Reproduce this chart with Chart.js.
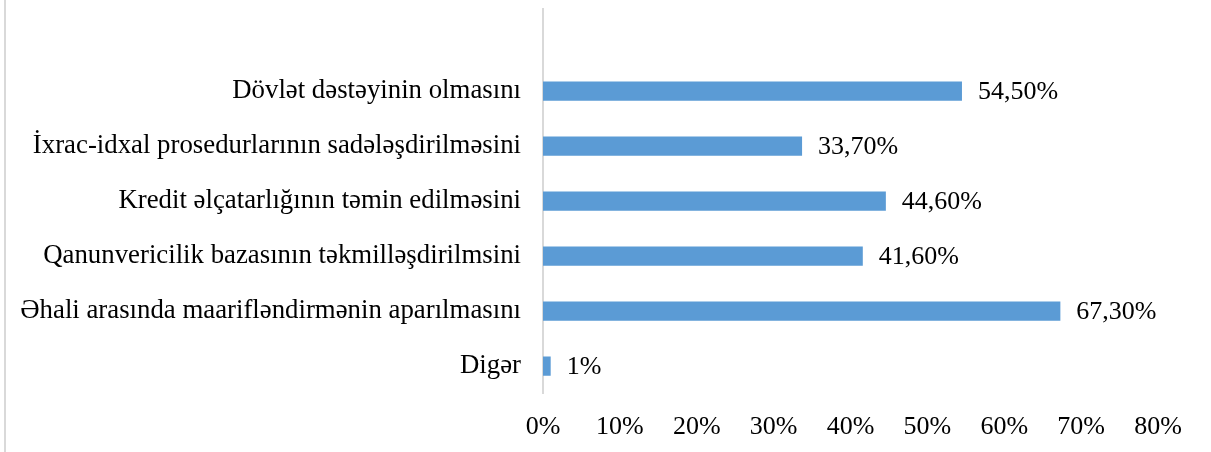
<!DOCTYPE html>
<html>
<head>
<meta charset="utf-8">
<script src="https://cdn.jsdelivr.net/npm/chart.js@4.4.1/dist/chart.umd.min.js"></script>
<style>
  html, body { margin: 0; padding: 0; background: #fff; }
  #wrap { position: relative; width: 1211px; height: 452px; }
  #edge { position: absolute; left: 4px; top: 0; width: 2px; height: 452px; background: #d9d9d9; }
  canvas { position: absolute; left: 0; top: 0; }
</style>
</head>
<body>
<div id="wrap">
  <div id="edge"></div>
  <canvas id="chart" width="1211" height="452"></canvas>
</div>
<script>
// ====== DATA ======
// first row is left blank on purpose (empty slot above the bars)
const categories = [
  '',
  'Dövlət dəstəyinin olmasını',
  'İxrac-idxal prosedurlarının sadələşdirilməsini',
  'Kredit əlçatarlığının təmin edilməsini',
  'Qanunvericilik bazasının təkmilləşdirilmsini',
  'Əhali arasında maarifləndirmənin aparılmasını',
  'Digər'
];
const values = [null, 54.5, 33.7, 44.6, 41.6, 67.3, 1];
const xTicks = [0, 10, 20, 30, 40, 50, 60, 70, 80];

const SERIF = '"Liberation Serif", "Times New Roman", serif';
const FONT = { family: SERIF, size: 26 };
const CAT_FONT = { family: SERIF, size: 26.8 };
const TEXT = '#000000';

function fmtPct(v) {
  if (v === Math.round(v)) return v + '%';
  return v.toFixed(2).replace('.', ',') + '%';
}

// value labels right of each bar
const valueLabels = {
  id: 'valueLabels',
  afterDatasetsDraw(c) {
    const ctx = c.ctx;
    const meta = c.getDatasetMeta(0);
    ctx.save();
    ctx.font = `${FONT.size}px ${FONT.family}`;
    ctx.fillStyle = TEXT;
    ctx.textBaseline = 'middle';
    ctx.textAlign = 'left';
    meta.data.forEach((bar, i) => {
      const v = values[i];
      if (v == null) return;
      ctx.fillText(fmtPct(v), bar.x + 16, bar.y + 1);
    });
    ctx.restore();
  }
};

const ctx = document.getElementById('chart').getContext('2d');
new Chart(ctx, {
  type: 'bar',
  data: {
    labels: categories,
    datasets: [{
      data: values,
      backgroundColor: '#5b9bd5',
      borderWidth: 0,
      barPercentage: 0.35,
      categoryPercentage: 1
    }]
  },
  options: {
    indexAxis: 'y',
    responsive: false,
    animation: false,
    layout: { padding: { top: 8.5, right: 53, bottom: 0, left: 0 } },
    plugins: { legend: { display: false }, tooltip: { enabled: false } },
    scales: {
      x: {
        min: 0, max: 80,
        afterBuildTicks: s => { s.ticks = xTicks.map(v => ({ value: v })); },
        grid: { display: false, drawTicks: false },
        border: { display: false },
        ticks: { color: TEXT, font: FONT, padding: 18, maxRotation: 0, callback: v => v + '%' },
        afterFit: s => { s.height = 58.5; s.paddingLeft = 0; s.paddingRight = 0; }
      },
      y: {
        grid: { display: false, drawTicks: false },
        border: { display: true, color: '#d9d9d9', width: 2 },
        ticks: { color: TEXT, font: CAT_FONT, padding: 22 },
        afterFit: s => { s.width = 543; s.paddingTop = 0; s.paddingBottom = 0; }
      }
    }
  },
  plugins: [valueLabels]
});
</script>
</body>
</html>
